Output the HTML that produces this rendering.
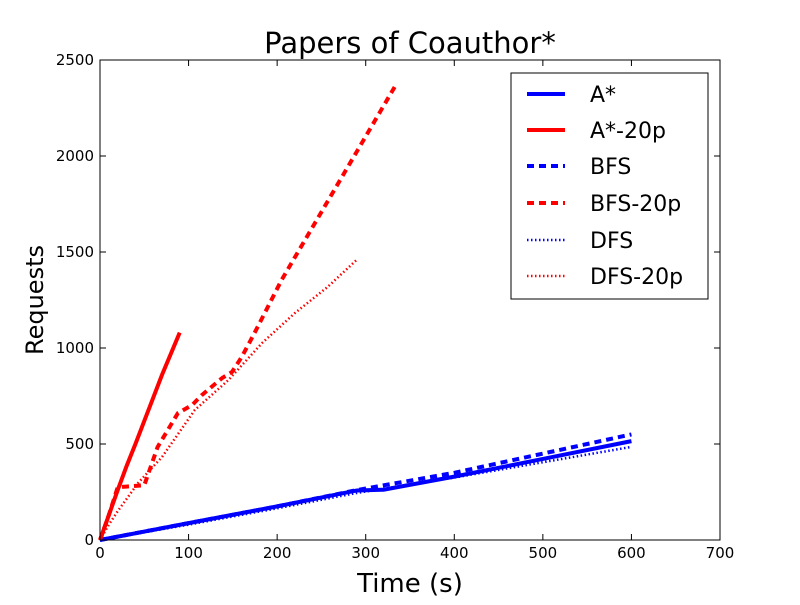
<!DOCTYPE html>
<html><head><meta charset="utf-8"><style>
body{margin:0;background:#fff}
text{font-family:"DejaVu Sans","Liberation Sans",sans-serif}
</style></head><body>
<svg id="c" width="800" height="600"></svg>
<script>
const xTicks=[0,100,200,300,400,500,600,700];
const yTicks=[0,500,1000,1500,2000,2500];
const astarT=[0,100,200,290,320,400,500,600];
const astarR=[0,88,175,258,262,330,422,515];
const astar20T=[0,10,20,30,40,50,60,70,80,90];
const astar20R=[0,130,260,385,500,620,740,860,970,1080];
const bfsT=[0,100,200,290,400,500,600];
const bfsR=[0,88,175,260,350,450,550];
const bfs20T=[0,10,20,35,50,65,88,104,115,138,149,160,175,205,334];
const bfs20R=[0,130,275,280,285,484,661,703,755,844,875,953,1083,1354,2370];
const dfsT=[0,100,200,290,400,500,600];
const dfsR=[0,80,165,245,325,405,485];
const dfs20T=[0,10,20,43,70,107,145,183,220,257,291];
const dfs20R=[0,80,150,297,432,677,833,1026,1182,1318,1464];
const NS='http://www.w3.org/2000/svg';
const svg=document.getElementById('c');
const X=t=>100+t*620/700, Y=r=>540-r*480/2500;
function el(tag,attrs,parent){const e=document.createElementNS(NS,tag);for(const k in attrs)e.setAttribute(k,attrs[k]);(parent||svg).appendChild(e);return e;}
const series=[
 [astarT,astarR,'blue','','astar-line'],
 [astar20T,astar20R,'red','','astar-20p-line'],
 [bfsT,bfsR,'blue','7,5','bfs-line'],
 [bfs20T,bfs20R,'red','7,5','bfs-20p-line'],
 [dfsT,dfsR,'blue','1.5,2.5','dfs-line'],
 [dfs20T,dfs20R,'red','1.5,2.5','dfs-20p-line']];
series.forEach(s=>{
 const p=el('polyline',{points:s[0].map((t,i)=>X(t)+','+Y(s[1][i])).join(' '),fill:'none',stroke:s[2],'stroke-width':s[3]==='1.5,2.5'?2.5:4,'stroke-dasharray':s[3]});
 
 
});
const f=el('rect',{x:100,y:60,width:620,height:480,fill:'none',stroke:'#000','stroke-width':1});


xTicks.forEach(v=>{
 el('line',{x1:X(v),x2:X(v),y1:540,y2:534,stroke:'#000'});el('line',{x1:X(v),x2:X(v),y1:60,y2:66,stroke:'#000'});
 const t=el('text',{x:X(v),y:558,'font-size':15,'text-anchor':'middle'});t.textContent=v;
 
 
});
yTicks.forEach(v=>{
 el('line',{x1:100,x2:106,y1:Y(v),y2:Y(v),stroke:'#000'});el('line',{x1:720,x2:714,y1:Y(v),y2:Y(v),stroke:'#000'});
 const t=el('text',{x:94,y:Y(v)+5,'font-size':15,'text-anchor':'end'});t.textContent=v;
 
 
});
const ti=el('text',{x:410,y:53,'font-size':29,'text-anchor':'middle'});ti.textContent='Papers of Coauthor*';


const xt=el('text',{x:410,y:592,'font-size':26,'text-anchor':'middle'});xt.textContent='Time (s)';


const yt=el('text',{x:0,y:0,'font-size':24,'text-anchor':'middle',transform:'translate(43,300) rotate(-90)'});yt.textContent='Requests';


const lg=el('rect',{x:511,y:73,width:197,height:226,fill:'#fff',stroke:'#000'});


const names=['A*','A*-20p','BFS','BFS-20p','DFS','DFS-20p'];
const ly=[94,130,166,203,240,276];
series.forEach((s,i)=>{
 el('line',{x1:527,x2:565,y1:ly[i],y2:ly[i],stroke:s[2],'stroke-width':s[3]==='1.5,2.5'?2.5:4,'stroke-dasharray':s[3]});
 const t=el('text',{x:590,y:ly[i]+8,'font-size':22});t.textContent=names[i];
 
 
});
</script>
</body></html>
